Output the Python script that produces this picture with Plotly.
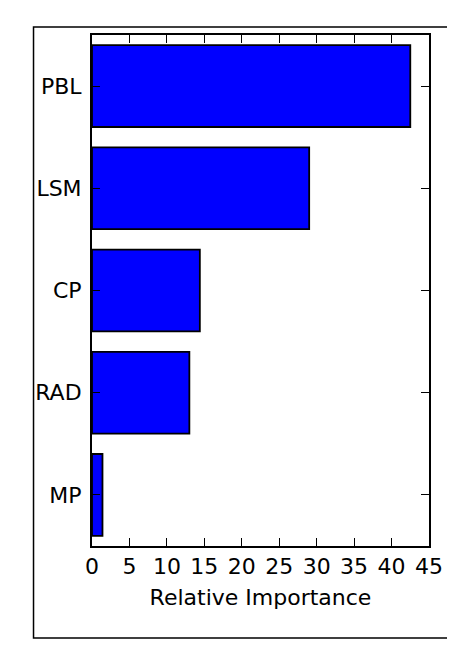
import plotly.graph_objects as go

categories = ["MP", "RAD", "CP", "LSM", "PBL"]
importance = [1.4, 13.0, 14.4, 29.0, 42.5]
x_ticks = [0, 5, 10, 15, 20, 25, 30, 35, 40, 45]

# browser body margin is 8px; build figure to fit inside the viewport
OFF = 8
W, H = 455 - OFF, 648 - OFF
L, R, T, B = 92 - OFF, 23, 35 - OFF, 102
pw, ph = W - L - R, H - T - B

def px_x(px):
    return (px - OFF - L) / pw

def px_y(py):
    return (H - B - (py - OFF)) / ph

fig = go.Figure()
fig.add_trace(go.Bar(
    x=importance, y=categories, orientation="h", width=0.8,
    marker=dict(color="#0000ff", line=dict(color="black", width=1.8)),
))

font = dict(family="DejaVu Sans", size=22, color="black")
fig.update_layout(
    width=W, height=H, margin=dict(l=L, r=R, t=T, b=B),
    paper_bgcolor="white", plot_bgcolor="white",
    showlegend=False, font=font,
    xaxis=dict(range=[0, 45], tickvals=x_ticks, ticks="inside", ticklen=8,
               tickcolor="black", tickwidth=1, showline=True, linecolor="black",
               linewidth=2, mirror="ticks", showgrid=False, zeroline=False,
               title=dict(text="Relative Importance", font=font, standoff=11),
               tickfont=font, ticklabelstandoff=0),
    yaxis=dict(range=[-0.5, 4.5], ticks="inside", ticklen=8, tickcolor="black",
               tickwidth=1, showline=True, linecolor="black", linewidth=2,
               mirror="ticks", showgrid=False, zeroline=False, tickfont=font,
               ticklabelstandoff=4),
    shapes=[dict(type="rect", xref="paper", yref="paper",
                 x0=px_x(33), x1=px_x(470), y0=px_y(638), y1=px_y(27),
                 line=dict(color="black", width=1.5), fillcolor="rgba(0,0,0,0)",
                 layer="below")],
)
fig.write_html("out.html")
